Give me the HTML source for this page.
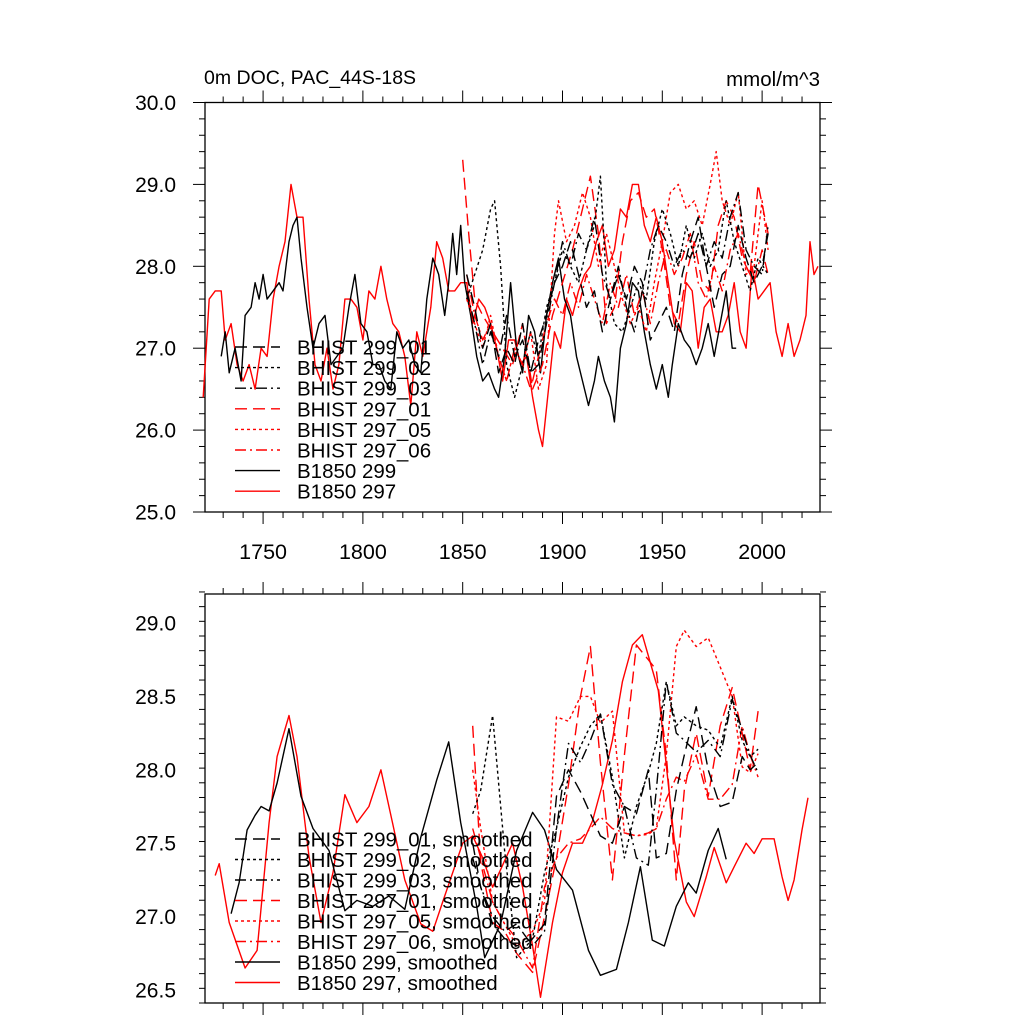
<!DOCTYPE html>
<html><head><meta charset="utf-8"><style>
html,body{margin:0;padding:0;background:#fff}
svg{display:block;font-family:"Liberation Sans",sans-serif}
</style></head><body>
<svg id="chart" width="1024" height="1024" viewBox="0 0 1024 1024">
<rect width="1024" height="1024" fill="#fff"/>
<text x="204" y="84" font-size="19.5">0m DOC, PAC_44S-18S</text>
<text x="820" y="86" font-size="20.5" text-anchor="end">mmol/m^3</text>
<g id="top"></g><g id="bot"></g>
</svg>
<script>
// ---- Data (top panel raw) ----
const b297Years=[1720,1723,1726,1729,1731,1734,1737,1740,1743,1746,1749,1752,1755,1758,1761,1764,1767,1770,1773,1776,1779,1782,1785,1788,1791,1794,1797,1800,1803,1806,1809,1812,1815,1818,1821,1824,1827,1830,1834,1837,1840,1843,1846,1849,1852,1855,1858,1861,1864,1867,1870,1873,1876,1879,1882,1885,1888,1890,1893,1896,1899,1902,1905,1908,1911,1914,1917,1920,1923,1926,1929,1932,1935,1938,1941,1944,1947,1950,1953,1956,1959,1962,1965,1968,1971,1974,1977,1980,1983,1986,1989,1992,1995,1998,2001,2004,2007,2010,2013,2016,2019,2022,2024,2026,2028];
const b297Vals=[26.4,27.6,27.7,27.7,27.1,27.3,26.8,26.6,26.8,26.5,27.0,26.9,27.6,28.0,28.3,29.0,28.6,28.6,27.6,26.8,26.6,27.0,26.5,26.8,27.6,27.6,27.5,27.1,27.7,27.6,28.0,27.6,27.3,27.2,26.9,26.3,27.2,26.9,27.5,28.3,28.1,27.7,27.7,27.8,27.8,27.3,27.6,27.5,27.3,27.0,26.6,27.1,27.1,26.8,26.9,26.4,26.0,25.8,26.5,27.2,27.0,27.6,27.4,27.7,27.9,28.0,28.3,28.5,28.0,28.2,28.7,28.6,29.0,29.0,28.5,28.3,28.6,28.3,27.8,27.3,27.2,27.8,27.7,27.0,27.5,27.6,27.2,27.2,27.4,27.8,27.2,27.0,28.0,27.6,27.7,27.8,27.2,26.9,27.3,26.9,27.1,27.4,28.3,27.9,28.0];
const b299Years=[1729,1731,1733,1736,1739,1741,1744,1746,1748,1750,1752,1755,1758,1760,1763,1765,1767,1769,1772,1775,1778,1781,1784,1787,1790,1793,1796,1799,1802,1805,1808,1811,1814,1817,1820,1823,1826,1829,1832,1835,1838,1841,1843,1845,1847,1849,1851,1854,1857,1860,1863,1866,1868,1871,1874,1877,1880,1883,1886,1889,1892,1895,1898,1901,1904,1907,1910,1913,1916,1918,1921,1924,1926,1929,1932,1935,1938,1941,1944,1947,1950,1953,1955,1958,1961,1964,1967,1970,1973,1976,1979,1982,1985,1987];
const b299Vals=[26.9,27.2,26.7,27.0,26.6,27.4,27.5,27.8,27.6,27.9,27.6,27.7,27.8,27.7,28.3,28.5,28.6,28.1,27.5,27.0,27.3,27.4,26.8,26.9,27.0,27.5,27.9,27.3,27.2,26.8,26.8,26.6,26.5,27.2,27.0,27.1,26.8,26.7,27.6,28.1,27.9,27.4,27.8,28.4,27.9,28.5,27.8,27.4,26.9,26.6,26.7,26.5,26.4,26.9,27.8,27.0,26.7,27.4,27.2,26.7,27.4,27.8,28.1,27.6,27.4,26.9,26.6,26.3,26.6,26.9,26.6,26.4,26.1,27.0,27.3,27.8,27.7,27.2,26.8,26.5,26.8,26.4,26.8,27.3,27.1,27.0,26.8,27.0,27.3,26.9,27.3,27.7,27.0,27.0];
const h29701Years=[1850,1853,1856,1860,1865,1870,1875,1880,1885,1890,1895,1900,1905,1910,1914,1918,1922,1926,1930,1934,1938,1942,1946,1950,1954,1958,1962,1966,1970,1974,1978,1982,1986,1990,1994,1998,2003];
const h29701Vals=[29.3,28.4,27.6,27.4,27.2,27.0,26.8,27.3,26.5,26.8,27.4,27.8,28.2,28.7,29.1,28.4,27.3,27.5,28.3,28.8,28.9,28.6,28.7,28.2,27.5,27.3,27.9,28.3,27.8,27.7,28.5,28.8,28.6,28.1,27.9,29.0,28.4];
const h29705Years=[1852,1856,1860,1864,1868,1872,1876,1880,1884,1888,1892,1896,1898,1902,1906,1910,1914,1918,1922,1926,1930,1934,1938,1942,1946,1950,1954,1958,1962,1966,1970,1974,1977,1980,1984,1988,1992,1996,2000,2003];
const h29705Vals=[27.6,27.3,27.0,27.4,26.9,26.6,27.0,26.8,27.2,26.5,26.8,28.4,28.8,28.3,28.5,28.9,28.6,28.0,28.4,28.0,27.6,27.3,27.5,27.2,27.8,28.3,28.9,29.0,28.7,28.8,28.5,29.0,29.4,28.8,28.5,28.9,27.9,28.0,28.8,28.2];
const rawYears4=[1852,1856,1860,1864,1868,1872,1876,1880,1884,1888,1892,1896,1900,1904,1908,1912,1916,1920,1924,1928,1932,1936,1940,1944,1948,1952,1956,1960,1964,1968,1972,1976,1980,1984,1988,1992,1996,2000,2003];
const h29706Vals=[27.9,27.4,27.1,27.3,26.9,26.6,27.0,26.8,26.5,26.9,27.3,27.6,27.4,27.8,27.5,27.9,27.6,27.3,27.8,27.5,27.9,27.4,27.7,27.3,27.8,28.2,27.9,28.1,28.4,27.8,27.6,28.0,27.7,28.2,28.4,28.0,27.8,28.2,27.9];
const h29901Vals=[27.9,27.5,27.0,27.3,26.7,27.0,26.8,27.3,26.7,27.1,27.4,27.8,28.0,28.3,27.9,27.5,27.7,27.2,27.6,27.9,27.6,28.0,27.8,27.1,27.3,27.5,27.2,27.9,28.3,28.6,28.0,27.5,27.9,28.0,28.5,28.1,27.8,28.0,28.4];
const h29903Vals=[27.7,27.3,26.8,27.2,26.9,27.4,26.9,27.1,26.7,26.8,27.3,27.8,28.3,28.0,28.4,28.2,28.6,27.9,27.6,28.0,27.5,27.2,27.7,28.2,28.5,28.3,28.0,28.2,28.1,28.4,28.0,28.3,28.1,28.6,28.9,28.2,28.0,27.9,28.5];
const h29902Years=[1852,1856,1860,1864,1866,1869,1872,1876,1880,1884,1888,1892,1896,1900,1904,1908,1912,1916,1919,1922,1926,1930,1934,1938,1942,1946,1950,1954,1958,1962,1966,1970,1974,1978,1982,1986,1990,1994,1998,2003];
const h29902Vals=[27.6,27.9,28.2,28.7,28.8,28.0,26.8,26.4,26.8,27.2,26.9,27.5,27.8,28.2,28.0,27.8,28.2,28.5,29.1,27.8,27.3,27.2,27.5,27.8,27.6,28.3,28.7,28.4,28.0,28.5,28.1,28.4,28.0,28.2,28.8,28.3,28.0,27.7,28.1,27.9];
// ---- Data (bottom panel smoothed) ----
const s297Years=[1726,1728,1733,1741,1747,1753,1757,1763,1767,1773,1779,1785,1791,1797,1803,1809,1815,1821,1829,1835,1840,1845,1850,1855,1860,1865,1870,1875,1880,1885,1889,1895,1900,1905,1910,1915,1920,1925,1930,1935,1940,1948,1956,1962,1966,1972,1976,1982,1986,1992,1996,2000,2006,2010,2013,2016,2020,2023];
const s297Vals=[27.28,27.36,26.96,26.65,26.77,27.64,28.09,28.37,28.09,27.41,26.96,27.3,27.83,27.64,27.75,28.0,27.63,27.25,26.95,26.9,27.1,27.3,27.5,27.55,27.4,27.2,27.35,27.5,27.2,26.8,26.45,26.96,27.3,27.5,27.5,27.65,27.9,28.2,28.6,28.85,28.92,28.54,27.52,27.1,27.0,27.27,27.47,27.23,27.34,27.5,27.43,27.53,27.53,27.27,27.11,27.25,27.59,27.81];
const s299Years=[1734,1738,1742,1746,1749,1753,1757,1763,1769,1775,1783,1791,1797,1805,1813,1821,1829,1837,1843,1849,1857,1861,1869,1877,1885,1891,1897,1905,1913,1919,1927,1933,1939,1945,1951,1957,1963,1967,1973,1978,1982];
const s299Vals=[27.02,27.23,27.59,27.69,27.75,27.72,27.91,28.28,27.82,27.6,27.45,27.04,27.11,27.07,27.14,27.05,27.54,27.93,28.19,27.64,27.07,26.72,26.95,27.45,27.71,27.59,27.32,27.18,26.77,26.6,26.64,26.96,27.34,26.84,26.8,27.07,27.23,27.16,27.45,27.6,27.39];
const sYears=[1855,1859,1865,1871,1877,1885,1891,1897,1903,1909,1914,1919,1925,1931,1937,1943,1947,1952,1957,1961,1967,1973,1979,1985,1990,1994,1998];
const s29701Vals=[28.3,27.37,26.96,26.9,26.75,26.62,27.0,27.4,27.9,28.5,28.84,28.05,27.25,28.1,28.85,28.75,28.68,28.1,27.25,27.86,28.25,27.82,28.3,28.56,28.25,28.0,28.4];
const s29705Vals=[28.0,27.6,27.1,26.95,26.8,26.9,27.1,28.36,28.33,28.5,28.5,28.32,28.4,27.57,27.55,27.56,27.6,28.1,28.84,28.95,28.84,28.9,28.7,28.5,28.02,27.98,28.11];
const s29706Vals=[27.6,27.4,27.1,26.95,26.85,26.65,27.2,27.4,27.5,27.53,27.6,27.68,27.6,27.57,27.55,27.57,27.6,27.8,27.95,27.92,28.1,27.8,27.8,27.9,28.3,28.1,27.95];
const s29901Vals=[27.5,27.2,26.95,26.85,26.8,26.85,26.95,27.82,28.0,27.85,27.7,27.55,27.5,27.75,27.7,28.0,27.4,27.43,27.86,28.1,28.43,28.0,27.75,27.78,28.09,28.0,28.05];
const s29902Vals=[27.7,27.86,28.37,27.45,26.72,26.85,27.3,27.6,27.95,28.16,28.3,28.38,27.95,27.4,27.75,27.98,28.18,28.6,28.3,28.36,28.3,28.27,28.15,28.5,28.2,28.09,28.14];
const s29903Vals=[27.4,27.2,27.0,26.9,26.95,26.8,26.9,27.6,28.18,28.05,28.2,28.38,27.9,27.75,27.4,27.35,27.86,28.6,28.25,28.2,28.12,28.2,28.09,28.48,28.27,28.1,27.98];
// ---- Tick labels ----
const xTickYears=[1750,1800,1850,1900,1950,2000];
const topYTicks=[25,26,27,28,29,30];
const botYTicks=[26.5,27.0,27.5,28.0,28.5,29.0];

const NS="http://www.w3.org/2000/svg";
function mk(tag,attrs,parent){const e=document.createElementNS(NS,tag);for(const k in attrs)e.setAttribute(k,attrs[k]);parent.appendChild(e);return e;}
const L=205,R=820;
const X0=1720.9,X1=2029.0;
function xs(y){return L+(y-X0)/(X1-X0)*(R-L);}

function panel(g,top,bot,vmin,vmax,major,minor,yTicks,showX){
  const ys=v=>bot-(v-vmin)/(vmax-vmin)*(bot-top);
  for(let yr=1730;yr<=2020;yr+=10){
    const x=xs(yr);const big=yr%50===0;const len=big?12:6;
    const t1=mk('line',{x1:x,x2:x,y1:top,y2:top-len,stroke:'#000','stroke-width':1},g);
    
    
    const t2=mk('line',{x1:x,x2:x,y1:bot,y2:bot+len,stroke:'#000','stroke-width':1},g);
    
    
  }
  const n=Math.round((vmax-vmin)/minor);
  for(let i=0;i<=n;i++){
    const v=vmin+i*minor;const y=ys(v);
    const big=Math.abs(v/major-Math.round(v/major))<1e-6;const len=big?12:6;
    const a=mk('line',{x1:L,x2:L-len,y1:y,y2:y,stroke:'#000','stroke-width':1},g);
    
    
    const b=mk('line',{x1:R,x2:R+len,y1:y,y2:y,stroke:'#000','stroke-width':1},g);
    
    
  }
  yTicks.forEach(v=>{
    const t=mk('text',{x:176,y:ys(v)+7.5,'font-size':21,'text-anchor':'end'},g);
    t.textContent=v.toFixed(1);
    
    
  });
  if(showX){xTickYears.forEach(yr=>{
    const t=mk('text',{x:xs(yr),y:bot+47,'font-size':21.5,'text-anchor':'middle'},g);
    t.textContent=yr;
    
    
  });}
  const fr=mk('rect',{x:L,y:top,width:R-L,height:bot-top,fill:'none',stroke:'#000','stroke-width':1.3},g);
  
  
  return ys;
}
const DASH={solid:'',dash:'12,6',dot:'3,3',dashdot:'11,4,2,4'};
function series(g,ys,yrs,vals,color,style,name){
  let d='';yrs.forEach((yr,i)=>{d+=(i?'L':'M')+xs(yr).toFixed(1)+','+ys(vals[i]).toFixed(1);});
  const p=mk('path',{d:d,fill:'none',stroke:color,'stroke-width':1.4,'stroke-dasharray':DASH[style],'stroke-linejoin':'round'},g);
  
  
}
function legend(g,y0,step,labels,colors,styles){
  labels.forEach((lab,i)=>{
    const y=y0+i*step;
    const ln=mk('line',{x1:235,x2:280,y1:y,y2:y,stroke:colors[i],'stroke-width':1.4,'stroke-dasharray':DASH[styles[i]]},g);
    
    
    const t=mk('text',{x:297,y:y+7.5,'font-size':20.5},g);
    t.textContent=lab;
    
    
  });
}
const legColors=['#000','#000','#000','#f00','#f00','#f00','#000','#f00'];
const legStyles=['dash','dot','dashdot','dash','dot','dashdot','solid','solid'];
const legNames=['BHIST 299_01','BHIST 299_02','BHIST 299_03','BHIST 297_01','BHIST 297_05','BHIST 297_06','B1850 299','B1850 297'];

const gt=document.getElementById('top');
const yt=panel(gt,102.5,512,25,30,1,0.2,topYTicks,true);
series(gt,yt,b297Years,b297Vals,'#f00','solid','b1850-297-line');
series(gt,yt,b299Years,b299Vals,'#000','solid','b1850-299-line');
series(gt,yt,h29701Years,h29701Vals,'#f00','dash','bhist-297-01-line');
series(gt,yt,h29705Years,h29705Vals,'#f00','dot','bhist-297-05-line');
series(gt,yt,rawYears4,h29706Vals,'#f00','dashdot','bhist-297-06-line');
series(gt,yt,rawYears4,h29901Vals,'#000','dash','bhist-299-01-line');
series(gt,yt,h29902Years,h29902Vals,'#000','dot','bhist-299-02-line');
series(gt,yt,rawYears4,h29903Vals,'#000','dashdot','bhist-299-03-line');
legend(gt,347,20.6,legNames,legColors,legStyles);

const gb=document.getElementById('bot');
const yb=panel(gb,594,1003,26.4114,29.1975,0.5,0.1,botYTicks,false);
series(gb,yb,s297Years,s297Vals,'#f00','solid','b1850-297-smoothed-line');
series(gb,yb,s299Years,s299Vals,'#000','solid','b1850-299-smoothed-line');
series(gb,yb,sYears,s29701Vals,'#f00','dash','bhist-297-01-smoothed-line');
series(gb,yb,sYears,s29705Vals,'#f00','dot','bhist-297-05-smoothed-line');
series(gb,yb,sYears,s29706Vals,'#f00','dashdot','bhist-297-06-smoothed-line');
series(gb,yb,sYears,s29901Vals,'#000','dash','bhist-299-01-smoothed-line');
series(gb,yb,sYears,s29902Vals,'#000','dot','bhist-299-02-smoothed-line');
series(gb,yb,sYears,s29903Vals,'#000','dashdot','bhist-299-03-smoothed-line');
legend(gb,839,20.5,legNames.map(s=>s+', smoothed'),legColors,legStyles);
</script>
</body></html>
